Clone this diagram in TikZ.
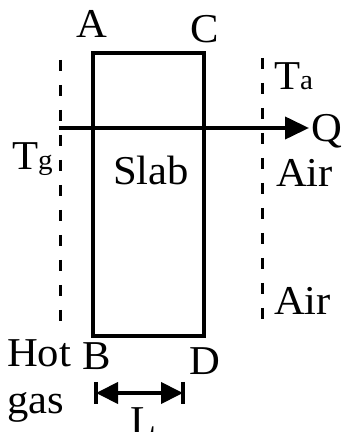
\documentclass[tikz,border=0pt]{standalone}
\usepackage{fontspec}
\setmainfont{Liberation Serif}[FakeStretch=1.04]
\usetikzlibrary{arrows.meta}
\newcommand{\smallsub}[1]{{\fontsize{28}{28}\selectfont #1}}

\begin{document}
\begin{tikzpicture}[x=1pt,y=1pt,
  wall/.style={line width=4pt},
  bound/.style={line width=3pt,dash pattern=on 11pt off 14pt},
  lbl/.style={font=\fontsize{41}{44}\selectfont,inner sep=0pt,anchor=base}]
  \useasboundingbox (0,0) rectangle (344,432);
  \coordinate (A) at (93,379);
  \coordinate (C) at (204,379);
  \coordinate (B) at (93,96);
  \coordinate (D) at (204,96);
  \coordinate (g1) at (60,372);
  \coordinate (g2) at (60,100);
  \coordinate (a1) at (262,374);
  \coordinate (a2) at (262,100);
  \coordinate (q0) at (59,304);
  \coordinate (q1) at (309,304);
  \coordinate (l1) at (96,39);
  \coordinate (l2) at (183,39);
  \coordinate (l1t) at (96,50);
  \coordinate (l1b) at (96,28);
  \coordinate (l2t) at (183,50);
  \coordinate (l2b) at (183,28);

  \draw[wall] (A) -- (C) -- (D) -- (B) -- cycle;
  \draw[bound] (g1) -- (g2);
  \draw[bound] (a1) -- (a2);
  \draw[wall,-{Triangle[length=24pt,width=22pt]}] (q0) -- (q1);
  \draw[wall,{Triangle[length=22pt,width=21pt]}-{Triangle[length=22pt,width=21pt]}] (l1) -- (l2);
  \draw[wall] (l1t) -- (l1b);
  \draw[wall] (l2t) -- (l2b);

  \node[lbl] (lA) at (92,394) {A};
  \node[lbl] (lC) at (205,389) {C};
  \node[lbl,anchor=base west] (lB) at (82,63) {B};
  \node[lbl,anchor=base west] (lD) at (189,57) {D};
  \node[lbl,anchor=base west] (lTa) at (274,342) {T\smallsub{a}};
  \node[lbl,anchor=base west] (lQ) at (311,290) {Q};
  \node[lbl,anchor=base west] (lTg) at (12,262) {T\smallsub{g}};
  \node[lbl,anchor=base west] (lSlab) at (113,247) {Slab};
  \node[lbl,anchor=base west] (lAir1) at (276,245) {Air};
  \node[lbl,anchor=base west] (lAir2) at (274,117) {Air};
  \node[lbl,anchor=base west] (lHot) at (7,65) {Hot};
  \node[lbl,anchor=base west] (lgas) at (7,18) {gas};
  \node[lbl] (lL) at (144,-2) {L};
\end{tikzpicture}
\end{document}
